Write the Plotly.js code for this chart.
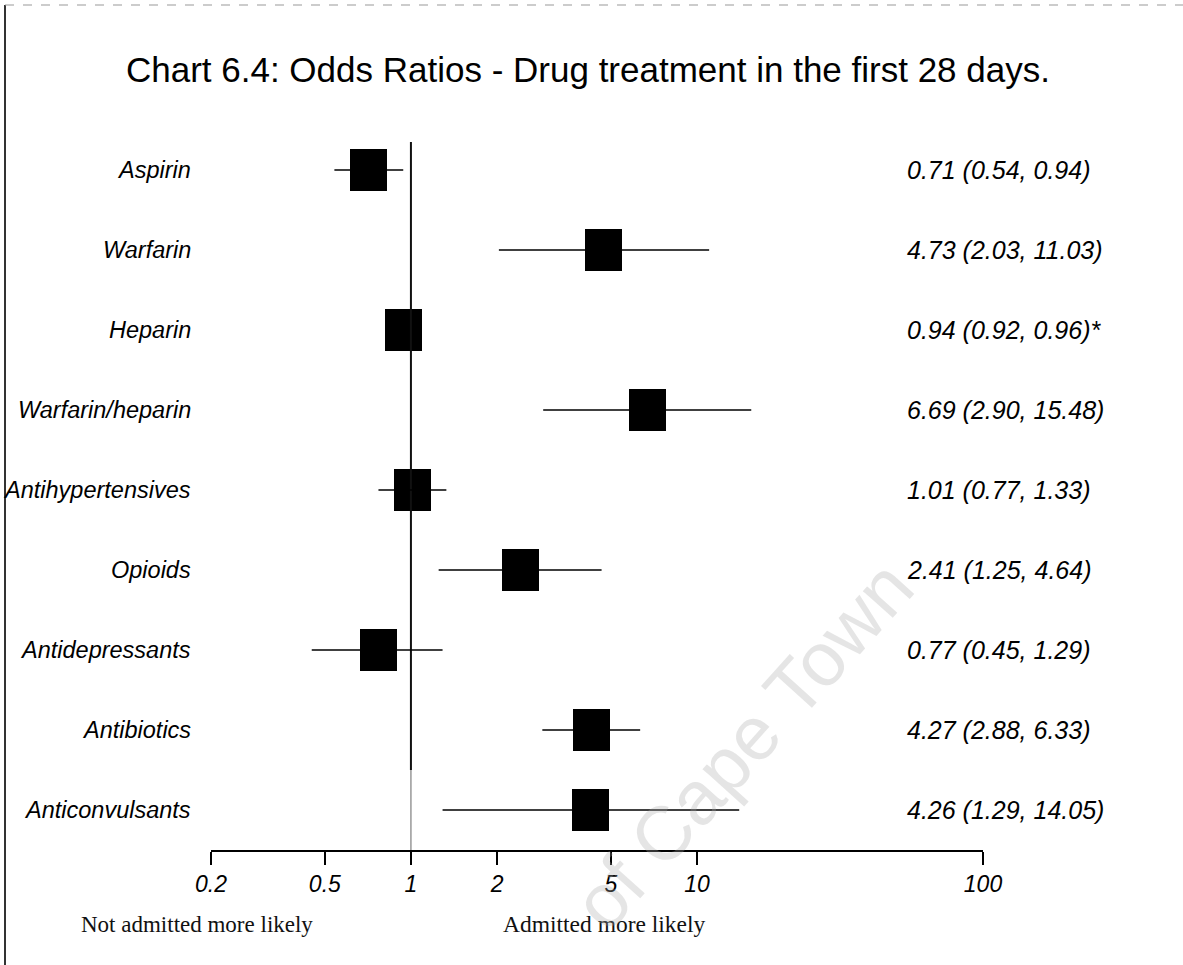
<!DOCTYPE html>
<html>
<head>
<meta charset="utf-8">
<script src="https://cdn.plot.ly/plotly-3.0.1.min.js"></script>
<style>
  html, body { margin: 0; padding: 0; background: #fff; }
  #chart { width: 1183px; height: 965px; }
</style>
</head>
<body>
<div id="chart"></div>
<script>
// ---- Data ----
const drugs = ["Aspirin", "Warfarin", "Heparin", "Warfarin/heparin", "Antihypertensives",
               "Opioids", "Antidepressants", "Antibiotics", "Anticonvulsants"];
const oddsRatio = [0.71, 4.73, 0.94, 6.69, 1.01, 2.41, 0.77, 4.27, 4.26];
const ciLower   = [0.54, 2.03, 0.92, 2.90, 0.77, 1.25, 0.45, 2.88, 1.29];
const ciUpper   = [0.94, 11.03, 0.96, 15.48, 1.33, 4.64, 1.29, 6.33, 14.05];
const notes     = ["", "", "*", "", "", "", "", "", ""];
const tickValues = [0.2, 0.5, 1, 2, 5, 10, 100];
const tickLabels = ["0.2", "0.5", "1", "2", "5", "10", "100"];
const titleText = "Chart 6.4: Odds Ratios - Drug treatment in the first 28 days.";
const leftNote = "Not admitted more likely";
const rightNote = "Admitted more likely";
const watermark = "of Cape Town";

// ---- Layout geometry ----
const W = 1183, H = 965;
const M = { l: 211, r: 200, t: 130, b: 115 };
const plotW = W - M.l - M.r;
const plotH = H - M.t - M.b;
const xRange = [Math.log10(0.2), 2];
const pxPerDecade = plotW / (xRange[1] - xRange[0]);
const boxWpx = 37;                       // box width in pixels
const f = Math.pow(10, (boxWpx / 2) / pxPerDecade);
const rows = drugs.map((d, i) => i);
const px2paper = p => (p - M.l) / plotW;
const py2paper = p => (H - M.b - p) / plotH;

const sans = "Liberation Sans, Arial, sans-serif";
const serif = "Liberation Serif, Times New Roman, serif";

const traces = [
  // boxes at the odds ratio
  {
    type: "bar", orientation: "h",
    y: rows,
    base: oddsRatio.map(v => v / f),
    x: oddsRatio.map(v => v * f - v / f),
    width: 0.53,
    marker: { color: "#000", line: { width: 0 } },
    hoverinfo: "skip", showlegend: false
  },
  // reference line at OR = 1 (dark upper part, faded lower part as in the scan)
  {
    type: "scatter", mode: "lines",
    x: [1, 1], y: [-0.35, 7.5],
    line: { color: "#111", width: 2 },
    hoverinfo: "skip", showlegend: false
  },
  {
    type: "scatter", mode: "lines",
    x: [1, 1], y: [7.5, 8.5],
    line: { color: "#888", width: 1.3 },
    hoverinfo: "skip", showlegend: false
  },
  // confidence intervals
  {
    type: "scatter", mode: "markers",
    x: oddsRatio, y: rows,
    marker: { size: 1, opacity: 0 },
    error_x: {
      type: "data", symmetric: false,
      array: ciUpper.map((u, i) => u - oddsRatio[i]),
      arrayminus: ciLower.map((l, i) => oddsRatio[i] - l),
      width: 0, thickness: 1.5, color: "#000"
    },
    hoverinfo: "skip", showlegend: false
  }
];

const annotations = [];
drugs.forEach((d, i) => {
  annotations.push({
    xref: "paper", yref: "y", x: px2paper(193), y: i,
    xanchor: "right", yanchor: "middle", showarrow: false,
    text: d, font: { family: sans, size: 23.5, color: "#000", style: "italic" }
  });
  annotations.push({
    xref: "paper", yref: "y", x: px2paper(905), y: i,
    xanchor: "left", yanchor: "middle", showarrow: false,
    text: oddsRatio[i].toFixed(2) + " (" + ciLower[i].toFixed(2) + ", " + ciUpper[i].toFixed(2) + ")" + notes[i],
    font: { family: sans, size: 25, color: "#000", style: "italic" }
  });
});
annotations.push({
  xref: "paper", yref: "paper", x: px2paper(315), y: py2paper(924),
  xanchor: "right", yanchor: "middle", showarrow: false,
  text: leftNote, font: { family: serif, size: 23, color: "#111" }
});
annotations.push({
  xref: "paper", yref: "paper", x: px2paper(604), y: py2paper(924),
  xanchor: "center", yanchor: "middle", showarrow: false,
  text: rightNote, font: { family: serif, size: 23.5, color: "#111" }
});
annotations.push({
  xref: "paper", yref: "paper", x: px2paper(742), y: py2paper(745),
  xanchor: "center", yanchor: "middle", showarrow: false, textangle: -48,
  text: watermark, font: { family: sans, size: 76, color: "rgba(170,170,170,0.3)" }
});

const layout = {
  width: W, height: H,
  margin: M,
  paper_bgcolor: "#fff", plot_bgcolor: "rgba(0,0,0,0)",
  title: {
    text: titleText,
    font: { family: sans, size: 35, color: "#000" },
    xref: "container", x: 0.497, xanchor: "center",
    yref: "container", y: 1 - 70 / H, yanchor: "middle"
  },
  xaxis: {
    type: "log", range: xRange,
    tickvals: tickValues, ticktext: tickLabels,
    showline: true, linecolor: "#000", linewidth: 1.5,
    ticks: "outside", ticklen: 13, tickwidth: 1.5, tickcolor: "#000",
    showgrid: false, zeroline: false,
    tickfont: { family: sans, size: 23, color: "#000", style: "italic" },
    fixedrange: true
  },
  yaxis: {
    range: [8.5, -0.5], visible: false, showgrid: false, zeroline: false, fixedrange: true
  },
  bargap: 0,
  annotations: annotations,
  shapes: [
    { type: "line", xref: "paper", yref: "paper",
      x0: px2paper(5), x1: px2paper(5), y0: py2paper(5), y1: py2paper(H),
      line: { color: "#333", width: 2 } },
    { type: "line", xref: "paper", yref: "paper",
      x0: px2paper(5), x1: px2paper(W), y0: py2paper(5), y1: py2paper(5),
      line: { color: "#999", width: 1, dash: "dash" } }
  ],
  showlegend: false
};

Plotly.newPlot("chart", traces, layout, { staticPlot: true, displayModeBar: false });
</script>
</body>
</html>
